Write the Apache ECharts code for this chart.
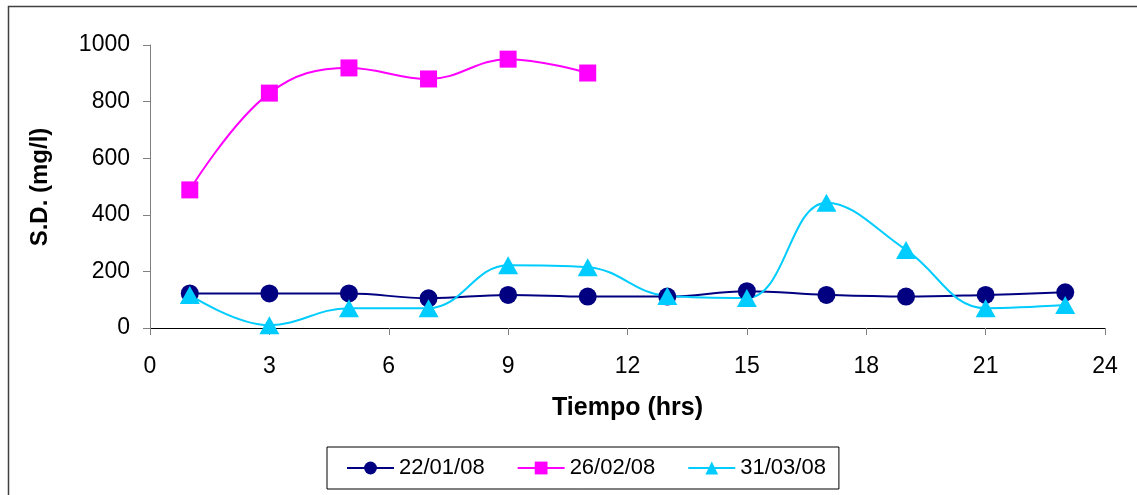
<!DOCTYPE html>
<html>
<head>
<meta charset="utf-8">
<script src="https://cdn.jsdelivr.net/npm/echarts@6/dist/echarts.min.js"></script>
<style>
  html, body { margin: 0; padding: 0; background: #fff; }
  #chart { width: 1137px; height: 495px; }
</style>
</head>
<body>
<div id="chart"></div>
<script>
// Hours of sampling
const hours = [1, 3, 5, 7, 9, 11, 13, 15, 17, 19, 21, 23];
const hours26 = [1, 3, 5, 7, 9, 11];

// Dissolved solids (mg/l) per sampling date
const sd220108 = [122, 122, 122, 105, 117, 111, 111, 130, 117, 111, 117, 126];
const sd260208 = [488, 830, 919, 880, 950, 901];
const sd310308 = [117, 10, 70, 70, 222, 215, 113, 106, 443, 276, 70, 81];

const seriesNames = ['22/01/08', '26/02/08', '31/03/08'];
const xTicks = { min: 0, max: 24, interval: 3 };
const yTicks = { min: 0, max: 1000, interval: 200 };

const pair = (xs, ys) => xs.map((x, i) => [x, ys[i]]);

const FONT = 'Liberation Sans, Arial, sans-serif';

const chart = echarts.init(document.getElementById('chart'), null, { renderer: 'canvas' });

chart.setOption({
  backgroundColor: '#ffffff',
  animation: false,
  grid: { left: 150, right: 32, top: 45, bottom: 167, containLabel: false },
  xAxis: {
    type: 'value',
    min: xTicks.min, max: xTicks.max, interval: xTicks.interval,
    name: 'Tiempo (hrs)',
    nameLocation: 'middle',
    nameGap: 68,
    nameTextStyle: { fontFamily: FONT, fontSize: 25, fontWeight: 'bold', color: '#000' },
    axisLine: { show: true, onZero: false, lineStyle: { color: '#000', width: 1 } },
    axisTick: { show: true, length: 7, lineStyle: { color: '#808080' } },
    axisLabel: { margin: 27, fontFamily: FONT, fontSize: 23, color: '#000' },
    splitLine: { show: false }
  },
  yAxis: {
    type: 'value',
    min: yTicks.min, max: yTicks.max, interval: yTicks.interval,
    axisLine: { show: true, lineStyle: { color: '#808080', width: 1 } },
    axisTick: { show: true, length: 7, lineStyle: { color: '#808080' } },
    axisLabel: {
      margin: 20, fontFamily: FONT, fontSize: 23, color: '#000',
      formatter: (v) => String(v)
    },
    splitLine: { show: false }
  },
  legend: {
    data: seriesNames,
    left: 327, top: 447,
    orient: 'horizontal',
    borderColor: '#000', borderWidth: 1,
    padding: [10, 13, 10, 19],
    itemWidth: 47, itemHeight: 16, itemGap: 32,
    textStyle: { fontFamily: FONT, fontSize: 22, color: '#000' }
  },
  graphic: [
    {
      type: 'rect', silent: true, z: -1,
      shape: { x: 8.5, y: 6.5, width: 1140, height: 500 },
      style: { fill: 'none', stroke: '#404040', lineWidth: 1.5 }
    },
    {
      type: 'text', silent: true,
      x: 40, y: 187, rotation: Math.PI / 2,
      style: {
        text: 'S.D. (mg/l)', fontFamily: FONT, fontSize: 24, fontWeight: 'bold',
        fill: '#000', align: 'center', verticalAlign: 'middle'
      }
    }
  ],
  series: [
    {
      name: seriesNames[0], type: 'line', smooth: 0.4,
      data: pair(hours, sd220108),
      symbol: 'circle', symbolSize: 18,
      lineStyle: { color: '#000080', width: 2 },
      itemStyle: { color: '#000080' }
    },
    {
      name: seriesNames[1], type: 'line', smooth: 0.4,
      data: pair(hours26, sd260208),
      symbol: 'rect', symbolSize: 17,
      lineStyle: { color: '#FF00FF', width: 2 },
      itemStyle: { color: '#FF00FF' }
    },
    {
      name: seriesNames[2], type: 'line', smooth: 0.4,
      data: pair(hours, sd310308),
      symbol: 'triangle', symbolSize: [20, 18],
      lineStyle: { color: '#00CCFF', width: 2 },
      itemStyle: { color: '#00CCFF' }
    }
  ]
});
</script>
</body>
</html>
